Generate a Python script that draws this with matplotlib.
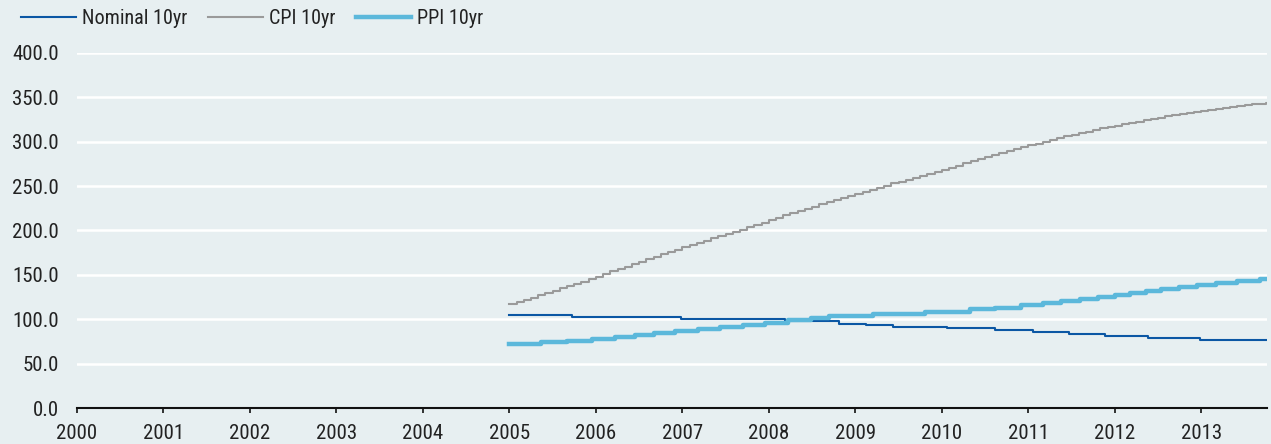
import matplotlib
matplotlib.use("Agg")
import matplotlib.pyplot as plt
from matplotlib import font_manager

# ---- data ----
years = list(range(2000, 2014))
y_ticks = [0, 50, 100, 150, 200, 250, 300, 350, 400]

cpi_start = 2005.0
cpi_values = [
    117, 119.5, 122, 124.5, 127, 129.5, 132, 135, 137.5, 140, 142.5, 145,
    148, 151, 154, 156.5, 159, 162, 165, 167.5, 170, 173, 175.5, 178,
    181, 183.5, 186, 188.5, 191, 193.5, 196, 198.5, 201, 204, 206.5, 209,
    212, 214.5, 217, 219.5, 222, 224.5, 227, 229.5, 232, 234, 236.5, 239,
    241, 243.5, 246, 248, 250.5, 253, 255, 257, 259.5, 261.5, 263.5, 266,
    268, 270.5, 273, 275.5, 278, 280.5, 283, 285, 287.5, 289.5, 291.5, 294,
    296, 298, 300, 302, 304, 306, 308, 309.5, 311.5, 313, 315, 316.5,
    318, 319.5, 321, 322.5, 324, 325.5, 327, 328.5, 330, 331, 332.5, 333.5,
    335, 336, 337, 338, 339, 340, 341, 342, 343, 344,
]

nominal_x = [2005.00, 2005.72, 2006.98, 2008.19, 2008.81, 2009.12, 2009.43,
             2010.06, 2010.61, 2011.06, 2011.47, 2011.89, 2012.38, 2012.99]
nominal_y = [104.5, 102.3, 100.0, 97.5, 95.0, 93.5, 91.8,
             89.7, 87.4, 85.4, 83.2, 80.9, 78.6, 76.4]

ppi_x = [2005.00, 2005.36, 2005.67, 2005.96, 2006.22, 2006.45, 2006.67, 2006.91,
         2007.18, 2007.44, 2007.70, 2007.96, 2008.22, 2008.49, 2008.69, 2009.20,
         2009.80, 2010.32, 2010.61, 2010.92, 2011.17, 2011.38, 2011.60, 2011.81,
         2012.00, 2012.18, 2012.36, 2012.54, 2012.74, 2012.95, 2013.17, 2013.41,
         2013.68]
ppi_y = [71.8, 74.1, 76.0, 78.3, 80.5, 82.8, 85.0, 87.3,
         89.5, 91.8, 94.0, 96.3, 98.9, 101.3, 103.4, 106.0,
         108.7, 111.3, 113.2, 115.8, 118.0, 120.3, 122.5, 125.2,
         127.5, 129.7, 132.0, 134.2, 136.5, 138.8, 141.0, 143.2,
         145.0]

x_end = 2013.76

# ---- style ----
bg = "#E7EFF1"
c_nom = "#0B57A4"
c_cpi = "#9A9A9A"
c_ppi = "#5CB8DB"
txt = "#222222"

available = {f.name for f in font_manager.fontManager.ttflist}
candidates = ["Liberation Sans Narrow", "Arial Narrow", "Roboto Condensed",
              "Open Sans Condensed", "DejaVu Sans Condensed", "Roboto",
              "Liberation Sans"]
chosen = next((c for c in candidates if c in available), "DejaVu Sans")
stretch = "normal"
if chosen == "DejaVu Sans Condensed":
    chosen = "DejaVu Sans"
    stretch = "condensed"
plt.rcParams["font.family"] = [chosen, "DejaVu Sans"]
plt.rcParams["font.stretch"] = stretch
narrow = "Narrow" in chosen or "Condensed" in chosen
fs_tick = 15 if narrow else 13
fs_leg = 14.5 if narrow else 13

fig = plt.figure(figsize=(12.71, 4.44), dpi=100, facecolor=bg)
ax = fig.add_axes([77 / 1271, 36 / 444, (1267 - 77) / 1271, (408 - 53) / 444])
ax.set_facecolor(bg)


def ext(xs, ys):
    return list(xs) + [x_end], list(ys) + [ys[-1]]


cpi_x = [cpi_start + i / 12 for i in range(len(cpi_values))]
xn, yn = ext(nominal_x, nominal_y)
xc, yc = ext(cpi_x, cpi_values)
xp, yp = ext(ppi_x, ppi_y)

ax.step(xn, yn, where="post", color=c_nom, lw=1.5, label="Nominal 10yr", zorder=3)
ax.step(xc, yc, where="post", color=c_cpi, lw=1.5, label="CPI 10yr", zorder=3)
ax.step(xp, yp, where="post", color=c_ppi, lw=3.2, label="PPI 10yr", zorder=4)

ax.set_xlim(2000, x_end)
ax.set_ylim(0, 400)
ax.set_xticks(years)
ax.set_xticklabels([str(y) for y in years])
ax.set_yticks(y_ticks)
ax.set_yticklabels([f"{v:.1f}" for v in y_ticks])
ax.grid(axis="y", color="white", lw=1.8, zorder=0)
ax.set_axisbelow(True)

for s in ["top", "right", "left"]:
    ax.spines[s].set_visible(False)
ax.spines["bottom"].set_color("#111111")
ax.spines["bottom"].set_linewidth(1.5)
ax.spines["bottom"].set_zorder(5)

ax.tick_params(axis="y", length=0, pad=13, labelsize=fs_tick, colors=txt)
ax.tick_params(axis="x", length=3.5, width=1.2, pad=8, labelsize=fs_tick,
               colors=txt, color="#111111")

fig.legend(loc="upper left", bbox_to_anchor=(0.002, 1.02), ncol=3, frameon=False,
           fontsize=fs_leg, handlelength=2.75, handletextpad=0.3, columnspacing=1.0,
           labelcolor=txt)

fig.savefig("out.png", dpi=100, facecolor=bg)
